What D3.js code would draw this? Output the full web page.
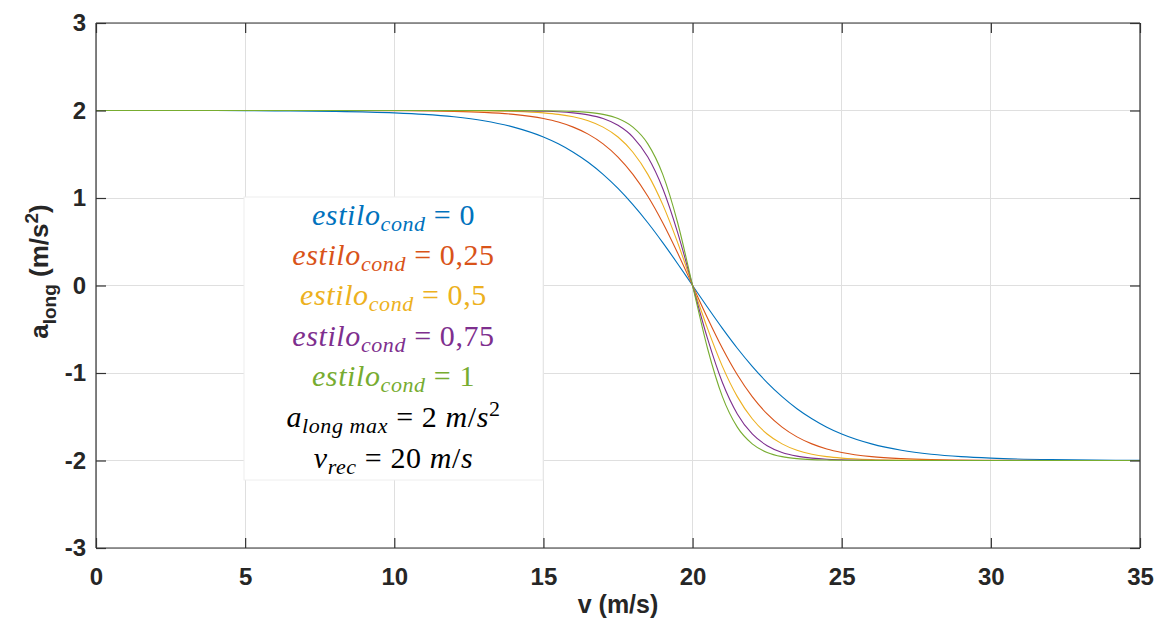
<!DOCTYPE html>
<html>
<head>
<meta charset="utf-8">
<script src="https://cdn.jsdelivr.net/npm/d3@7"></script>
<style>
  html, body { margin: 0; padding: 0; background: #fff; }
  svg { display: block; }
</style>
</head>
<body>
<svg id="chart" width="1156" height="624"></svg>
<script>
// Longitudinal acceleration vs. speed for several driving styles
const speeds = [0, 2, 4, 6, 8, 10, 11, 12, 13, 14, 15, 15.5, 16, 16.5, 17, 17.5, 18, 18.5, 19, 19.5,
                20, 20.5, 21, 21.5, 22, 22.5, 23, 23.5, 24, 24.5, 25, 26, 27, 28, 29, 30, 32, 35];

const accStyle0 = [2.00, 2.00, 2.00, 1.996, 1.99, 1.973, 1.956, 1.928, 1.883, 1.81, 1.697, 1.619, 1.523, 1.408, 1.27, 1.109, 0.924, 0.717, 0.49, 0.249,
                   0, -0.249, -0.49, -0.717, -0.924, -1.109, -1.27, -1.408, -1.523, -1.619, -1.697, -1.81, -1.883, -1.928, -1.956, -1.973, -1.99, -1.998];
const accStyle025 = [2.00, 2.00, 2.00, 2.00, 2.00, 1.998, 1.995, 1.99, 1.979, 1.956, 1.908, 1.868, 1.81, 1.73, 1.619, 1.468, 1.27, 1.02, 0.717, 0.371,
                     0, -0.371, -0.717, -1.02, -1.27, -1.468, -1.619, -1.73, -1.81, -1.868, -1.908, -1.956, -1.979, -1.99, -1.995, -1.998, -2.00, -2.00];
const accStyle05 = [2.00, 2.00, 2.00, 2.00, 2.00, 2.00, 2.00, 1.999, 1.996, 1.99, 1.973, 1.956, 1.928, 1.883, 1.81, 1.697, 1.523, 1.27, 0.924, 0.49,
                    0, -0.49, -0.924, -1.27, -1.523, -1.697, -1.81, -1.883, -1.928, -1.956, -1.973, -1.99, -1.996, -1.999, -2.00, -2.00, -2.00, -2.00];
const accStyle075 = [2.00, 2.00, 2.00, 2.00, 2.00, 2.00, 2.00, 2.00, 2.00, 1.998, 1.992, 1.986, 1.973, 1.95, 1.908, 1.831, 1.697, 1.468, 1.109, 0.605,
                     0, -0.605, -1.109, -1.468, -1.697, -1.831, -1.908, -1.95, -1.973, -1.986, -1.992, -1.998, -2.00, -2.00, -2.00, -2.00, -2.00, -2.00];
const accStyle1 = [2.00, 2.00, 2.00, 2.00, 2.00, 2.00, 2.00, 2.00, 2.00, 2.00, 1.998, 1.995, 1.99, 1.979, 1.956, 1.908, 1.81, 1.619, 1.27, 0.717,
                   0, -0.717, -1.27, -1.619, -1.81, -1.908, -1.956, -1.979, -1.99, -1.995, -1.998, -2.00, -2.00, -2.00, -2.00, -2.00, -2.00, -2.00];

const styleLabels = ["0", "0,25", "0,5", "0,75", "1"];
const styleColors = ["#0072BD", "#D95319", "#EDB120", "#7E2F8E", "#77AC30"];
const xTicks = [0, 5, 10, 15, 20, 25, 30, 35];
const yTicks = [-3, -2, -1, 0, 1, 2, 3];

const seriesList = [accStyle0, accStyle025, accStyle05, accStyle075, accStyle1];

const svg = d3.select("#chart");
const plot = { left: 96, right: 1140, top: 23, bottom: 548 };

const x = d3.scaleLinear().domain([0, 35]).range([plot.left, plot.right]);
const y = d3.scaleLinear().domain([-3, 3]).range([plot.bottom, plot.top]);

const axisColor = "#333";
const gridColor = "#dfdfdf";
const tickFont = "'Liberation Sans', Arial, sans-serif";

// grid
const grid = svg.append("g");
grid.selectAll("line.gx").data(xTicks).join("line")
  .attr("x1", d => x(d)).attr("x2", d => x(d))
  .attr("y1", plot.top).attr("y2", plot.bottom)
  .attr("stroke", gridColor).attr("stroke-width", 1).attr("shape-rendering", "crispEdges");
grid.selectAll("line.gy").data(yTicks).join("line")
  .attr("x1", plot.left).attr("x2", plot.right)
  .attr("y1", d => y(d)).attr("y2", d => y(d))
  .attr("stroke", gridColor).attr("stroke-width", 1).attr("shape-rendering", "crispEdges");

// curves
svg.append("clipPath").attr("id", "plotClip").append("rect")
  .attr("x", plot.left).attr("y", plot.top)
  .attr("width", plot.right - plot.left).attr("height", plot.bottom - plot.top);

const line = d3.line()
  .x((d, i) => x(speeds[i]))
  .y(d => y(d))
  .curve(d3.curveMonotoneX);

svg.append("g").attr("clip-path", "url(#plotClip)")
  .selectAll("path").data(seriesList).join("path")
  .attr("d", d => line(d))
  .attr("fill", "none")
  .attr("stroke", (d, i) => styleColors[i])
  .attr("stroke-width", 1.1);

// axes with inward ticks (box style); plain hyphen for negatives
const tickLen = 10;
const plainFmt = d => String(d);
const axB = d3.axisBottom(x).tickValues(xTicks).tickSize(-tickLen).tickPadding(20).tickFormat(plainFmt);
const axT = d3.axisTop(x).tickValues(xTicks).tickSize(-tickLen).tickFormat("");
const axL = d3.axisLeft(y).tickValues(yTicks).tickSize(-tickLen).tickPadding(10).tickFormat(plainFmt);
const axR = d3.axisRight(y).tickValues(yTicks).tickSize(-tickLen).tickFormat("");

function styleAxis(g) {
  g.select(".domain").attr("stroke", axisColor).attr("stroke-width", 1.2);
  g.selectAll(".tick line").attr("stroke", axisColor).attr("stroke-width", 1.2);
  g.selectAll(".tick text")
    .attr("fill", "#262626")
    .style("font-family", tickFont)
    .style("font-size", "24px")
    .style("font-weight", "bold");
}

svg.append("g").attr("transform", `translate(0,${plot.bottom})`).call(axB).call(styleAxis)
  .call(g => g.select(".domain").attr("d", `M${plot.left},0H${plot.right}`));
svg.append("g").attr("transform", `translate(0,${plot.top})`).call(axT).call(styleAxis)
  .call(g => g.select(".domain").attr("d", `M${plot.left},0H${plot.right}`));
svg.append("g").attr("transform", `translate(${plot.left},0)`).call(axL).call(styleAxis)
  .call(g => g.select(".domain").attr("d", `M0,${plot.top}V${plot.bottom}`));
svg.append("g").attr("transform", `translate(${plot.right},0)`).call(axR).call(styleAxis)
  .call(g => g.select(".domain").attr("d", `M0,${plot.top}V${plot.bottom}`));

// axis titles
svg.append("text")
  .attr("x", (plot.left + plot.right) / 2).attr("y", 613)
  .attr("text-anchor", "middle")
  .attr("fill", "#262626")
  .style("font-family", tickFont).style("font-size", "25px").style("font-weight", "bold")
  .text("v (m/s)");

const yTitle = svg.append("text")
  .attr("transform", `translate(48,${(plot.top + plot.bottom) / 2 - 14}) rotate(-90)`)
  .attr("text-anchor", "middle")
  .attr("fill", "#262626")
  .style("font-family", tickFont).style("font-size", "26px").style("font-weight", "bold");
yTitle.append("tspan").text("a");
yTitle.append("tspan").attr("dy", 8).style("font-size", "19px").text("long");
yTitle.append("tspan").attr("dy", -8).text(" (m/s");
yTitle.append("tspan").attr("dy", -10).style("font-size", "19px").text("2");
yTitle.append("tspan").attr("dy", 10).text(")");

// annotation box
const box = { x0: 244, y0: 197, x1: 543, y1: 480 };
svg.append("rect")
  .attr("x", box.x0).attr("y", box.y0)
  .attr("width", box.x1 - box.x0).attr("height", box.y1 - box.y0)
  .attr("fill", "#fff").attr("stroke", "#eeeeee").attr("stroke-width", 1);

const serif = "'Liberation Serif', 'Times New Roman', serif";
const cx = (box.x0 + box.x1) / 2;
const baselines = [225, 265, 305, 346, 386, 427, 468];

function mathLine(yPos, color, parts) {
  const t = svg.append("text")
    .attr("x", cx).attr("y", yPos)
    .attr("text-anchor", "middle")
    .attr("fill", color)
    .style("font-family", serif).style("font-size", "30px")
    .style("letter-spacing", "0.6px");
  let shift = 0;
  parts.forEach(p => {
    const s = t.append("tspan").text(p.t);
    const target = p.sub ? 6 : p.sup ? -11 : 0;
    if (target !== shift) { s.attr("dy", target - shift); shift = target; }
    if (p.sub || p.sup) s.style("font-size", "22px");
    s.style("font-style", p.it ? "italic" : "normal");
  });
  return t;
}

styleLabels.forEach((lab, i) => {
  mathLine(baselines[i], styleColors[i], [
    { t: "estilo", it: true },
    { t: "cond", it: true, sub: true },
    { t: " = " + lab }
  ]);
});

mathLine(baselines[5], "#000", [
  { t: "a", it: true },
  { t: "long max", it: true, sub: true },
  { t: " = 2 " },
  { t: "m", it: true },
  { t: "/" },
  { t: "s", it: true },
  { t: "2", sup: true }
]);

mathLine(baselines[6], "#000", [
  { t: "v", it: true },
  { t: "rec", it: true, sub: true },
  { t: " = 20 " },
  { t: "m", it: true },
  { t: "/" },
  { t: "s", it: true }
]);
</script>
</body>
</html>
